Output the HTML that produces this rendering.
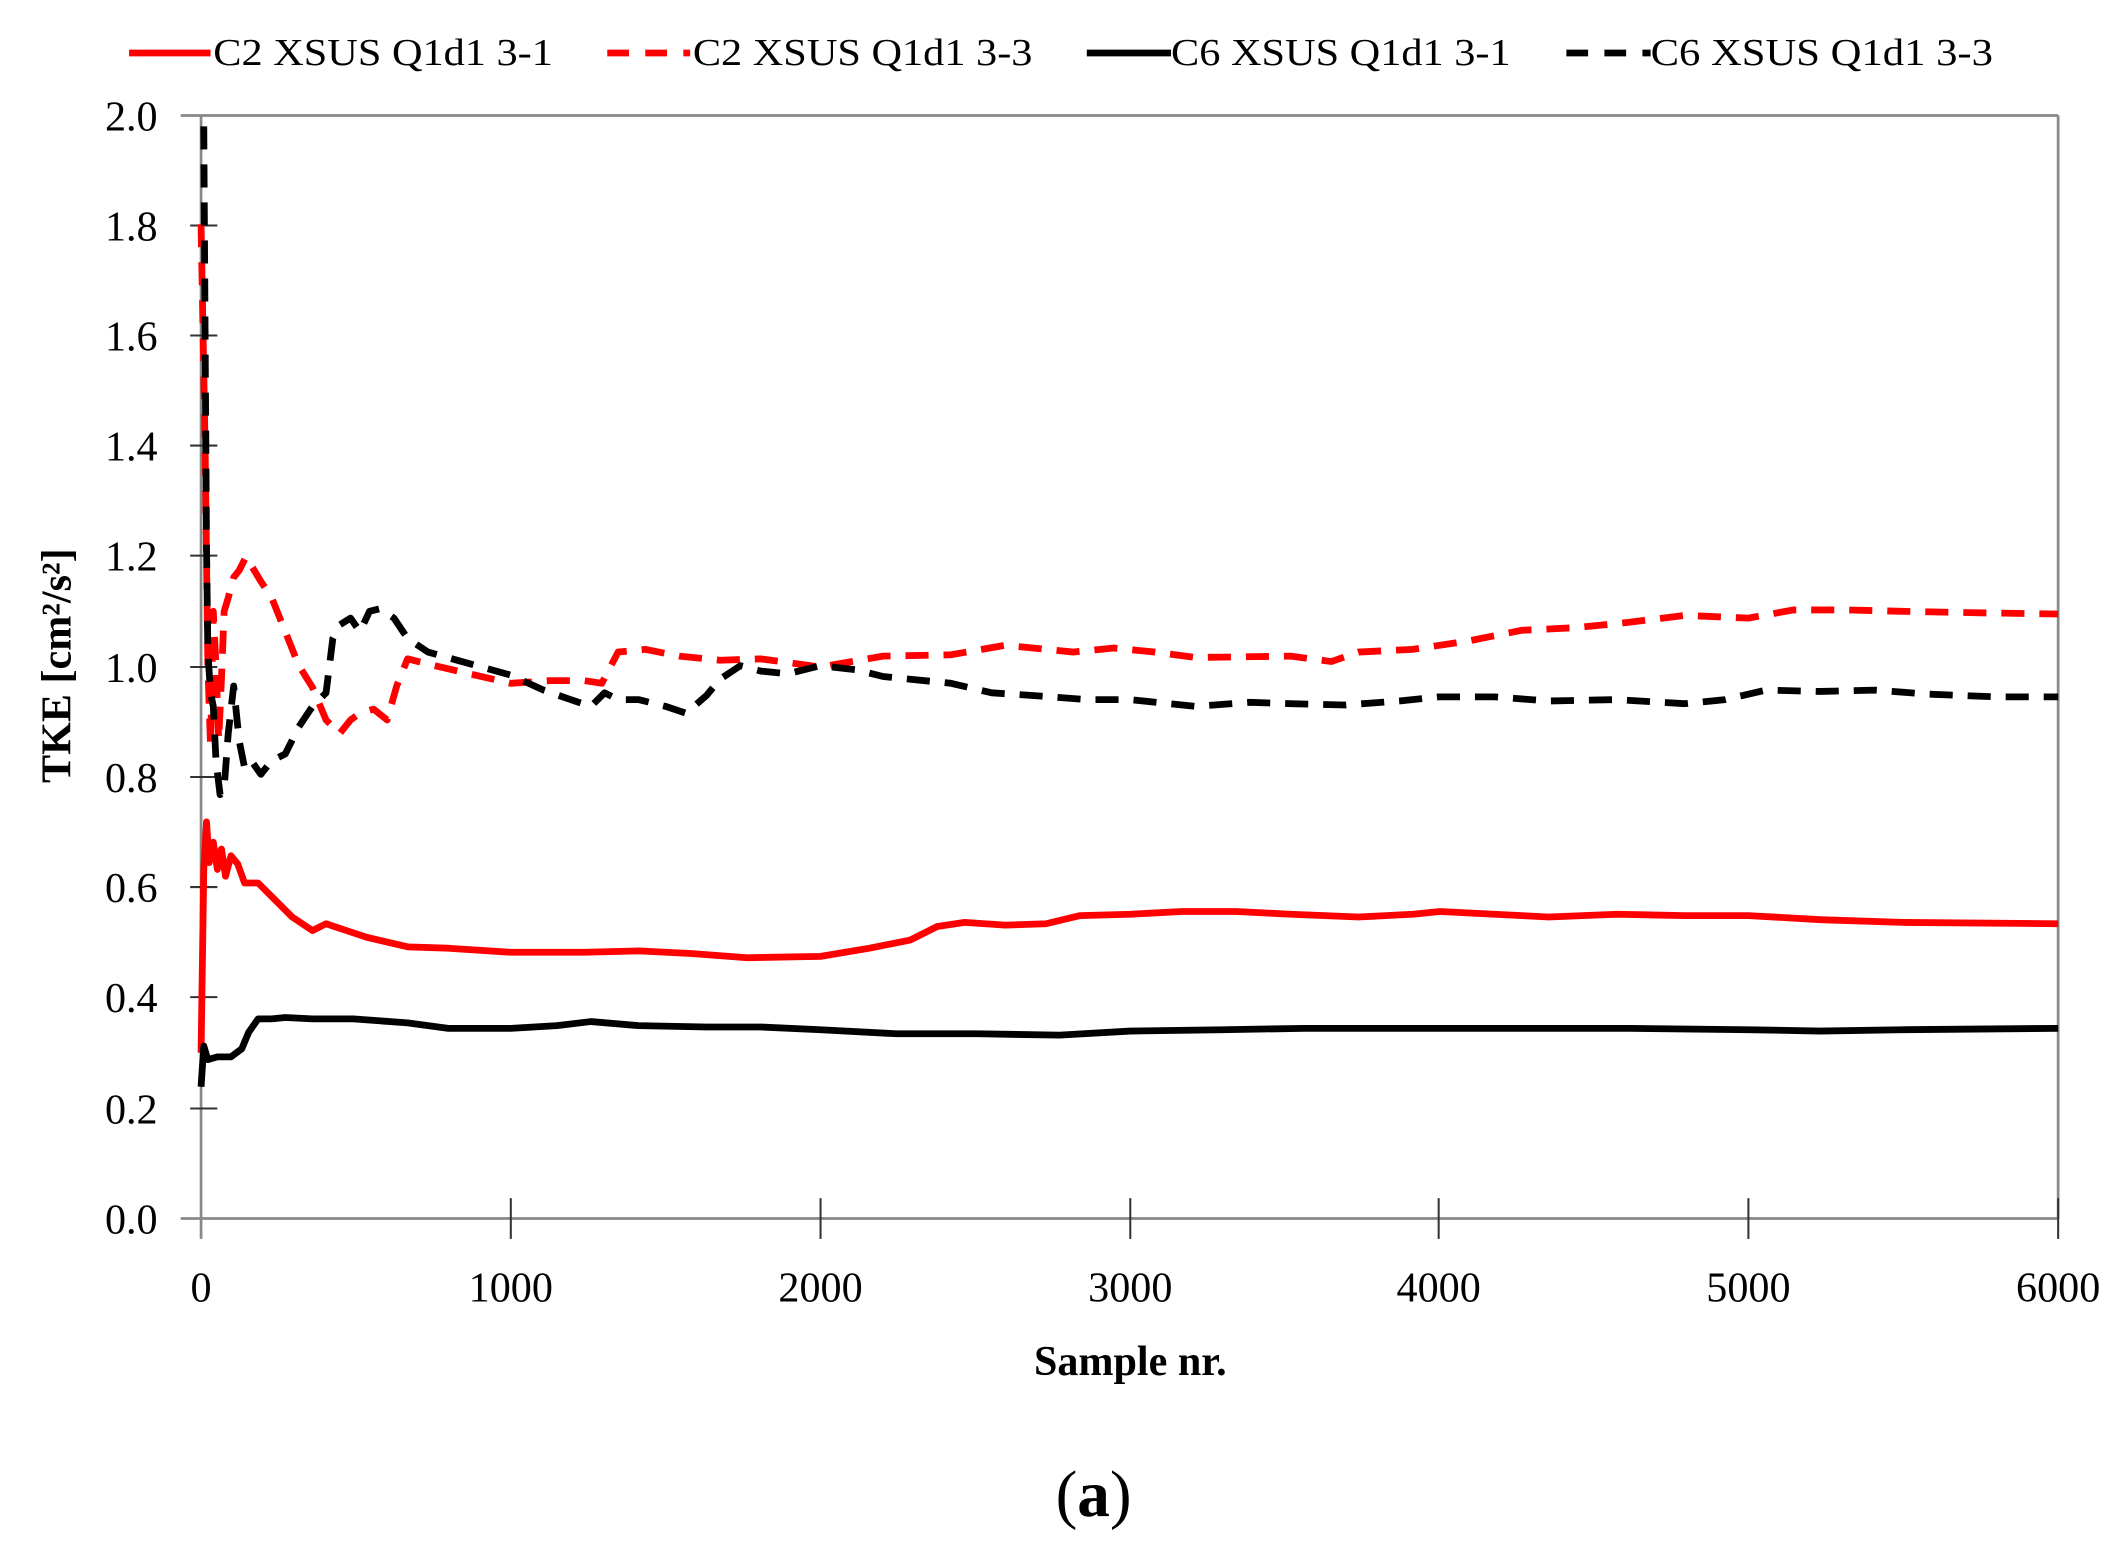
<!DOCTYPE html>
<html><head><meta charset="utf-8"><style>
html,body{margin:0;padding:0;background:#fff}
svg{display:block}
text{font-family:"Liberation Serif",serif}
</style></head><body>
<svg width="2122" height="1550" viewBox="0 0 1562 1141" preserveAspectRatio="none" xmlns="http://www.w3.org/2000/svg">
<rect width="1562" height="1141" fill="#fff"/>
<g font-size="28">
<line x1="95" y1="39" x2="155" y2="39" stroke="#f00" stroke-width="5"/>
<text x="157" y="48" textLength="250" lengthAdjust="spacingAndGlyphs">C2 XSUS Q1d1 3-1</text>
<line x1="447" y1="39" x2="508" y2="39" stroke="#f00" stroke-width="5" stroke-dasharray="16,12"/>
<text x="510" y="48" textLength="250" lengthAdjust="spacingAndGlyphs">C2 XSUS Q1d1 3-3</text>
<line x1="800" y1="39" x2="862" y2="39" stroke="#000" stroke-width="5"/>
<text x="862" y="48" textLength="250" lengthAdjust="spacingAndGlyphs">C6 XSUS Q1d1 3-1</text>
<line x1="1153" y1="39" x2="1215" y2="39" stroke="#000" stroke-width="5" stroke-dasharray="16,12"/>
<text x="1215" y="48" textLength="252" lengthAdjust="spacingAndGlyphs">C6 XSUS Q1d1 3-3</text>
</g>
<g stroke="#888" stroke-width="2" fill="none">
<line x1="133" y1="85" x2="1515" y2="85"/>
<line x1="1515" y1="85" x2="1515" y2="897"/>
<line x1="148" y1="85" x2="148" y2="912"/>
<line x1="133" y1="897" x2="1515" y2="897"/>
</g>
<g stroke="#333" stroke-width="1.5">
<line x1="140" y1="166" x2="160" y2="166"/><line x1="140" y1="247" x2="160" y2="247"/>
<line x1="140" y1="328" x2="160" y2="328"/><line x1="140" y1="409" x2="160" y2="409"/>
<line x1="140" y1="491" x2="160" y2="491"/><line x1="140" y1="572" x2="160" y2="572"/>
<line x1="140" y1="653" x2="160" y2="653"/><line x1="140" y1="734" x2="160" y2="734"/>
<line x1="140" y1="816" x2="160" y2="816"/>
<line x1="376" y1="882" x2="376" y2="912"/><line x1="604" y1="882" x2="604" y2="912"/>
<line x1="832" y1="882" x2="832" y2="912"/><line x1="1059" y1="882" x2="1059" y2="912"/>
<line x1="1287" y1="882" x2="1287" y2="912"/><line x1="1515" y1="882" x2="1515" y2="912"/>
</g>
<g font-size="31" text-anchor="end">
<text x="116" y="96">2.0</text><text x="116" y="177">1.8</text><text x="116" y="258">1.6</text>
<text x="116" y="339">1.4</text><text x="116" y="420">1.2</text><text x="116" y="502">1.0</text>
<text x="116" y="583">0.8</text><text x="116" y="664">0.6</text><text x="116" y="745">0.4</text>
<text x="116" y="827">0.2</text><text x="116" y="908">0.0</text>
</g>
<g font-size="31" text-anchor="middle">
<text x="148" y="958">0</text><text x="376" y="958">1000</text><text x="604" y="958">2000</text>
<text x="832" y="958">3000</text><text x="1059" y="958">4000</text><text x="1287" y="958">5000</text>
<text x="1515" y="958">6000</text>
</g>
<text x="832" y="1012" font-size="31" font-weight="bold" text-anchor="middle">Sample nr.</text>
<text transform="translate(52,490) rotate(-90)" font-size="31" font-weight="bold" text-anchor="middle">TKE [cm²/s²]</text>
<text x="805" y="1116" font-size="48" text-anchor="middle">(<tspan font-weight="bold">a</tspan>)</text>
<g fill="none" stroke-width="5" stroke-linejoin="round">
<polyline stroke="#f00" points="148,775 150,640 152,605 154,635 157,620 160,640 163,625 166,645 170,630 175,636 180,650 190,650 200,660 215,675 230,685 240,680 255,685 270,690 300,697 330,698 376,701 430,701 470,700 510,702 550,705 604,704 640,698 670,692 690,682 710,679 740,681 770,680 795,674 832,673 870,671 910,671 950,673 1000,675 1040,673 1060,671 1100,673 1140,675 1190,673 1240,674 1287,674 1340,677 1400,679 1515,680"/>
<polyline stroke="#000" points="148,800 150,770 153,780 160,778 170,778 178,772 183,760 190,750 200,750 210,749 230,750 260,750 300,753 330,757 376,757 410,755 435,752 470,755 520,756 560,756 604,758 660,761 720,761 780,762 832,759 900,758 960,757 1059,757 1100,757 1200,757 1287,758 1340,759 1400,758 1515,757"/>
<polyline stroke="#f00" stroke-dasharray="17,11" points="148,165 151,330 153,490 155,550 157,450 159,490 161,545 163,500 165,450 168,440 172,425 176,420 181,410 186,418 192,428 200,440 210,465 220,490 230,506 240,530 250,540 258,530 265,525 275,522 285,530 292,505 300,485 320,490 350,497 376,503 405,501 430,501 443,503 455,480 475,478 500,483 530,486 560,485 604,491 650,483 700,482 740,475 790,480 820,477 850,480 880,484 950,483 980,487 1000,480 1040,478 1080,472 1120,464 1160,462 1200,458 1240,453 1287,455 1320,449 1360,449 1400,450 1450,451 1515,452"/>
<polyline stroke="#000" stroke-dasharray="17,11" points="150,93 151,250 152,400 153,480 155,510 157,520 159,560 162,585 165,580 168,540 172,505 176,545 180,565 185,560 192,570 200,560 210,555 220,535 230,520 240,510 245,470 250,460 258,455 265,465 272,450 280,448 290,455 300,470 315,480 340,487 376,497 400,508 420,515 435,520 445,510 455,515 470,515 490,520 505,525 520,512 530,500 545,490 560,494 580,496 604,490 630,493 650,498 670,500 700,503 730,510 760,512 800,515 832,515 880,520 920,517 950,518 990,519 1030,516 1059,513 1100,513 1140,516 1190,515 1240,518 1270,515 1300,508 1340,509 1380,508 1420,511 1470,513 1515,513"/>
</g>
</svg>
</body></html>
